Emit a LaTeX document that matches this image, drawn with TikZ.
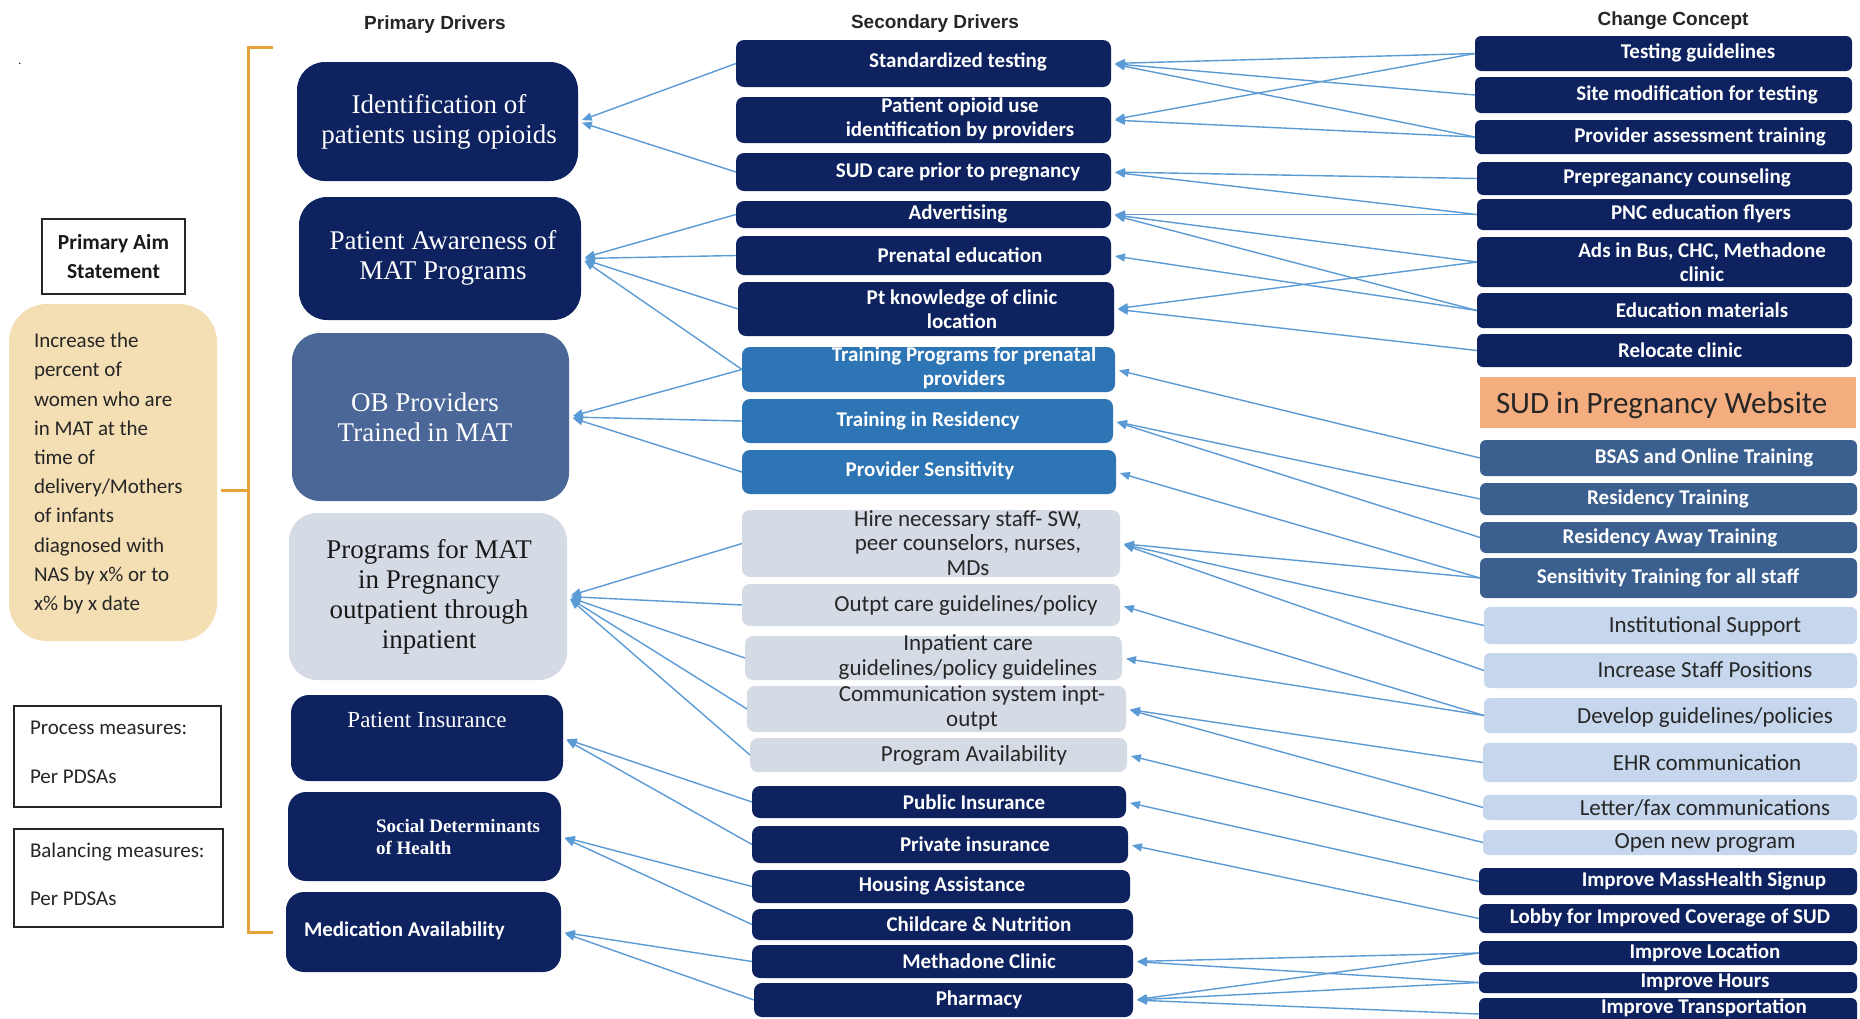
\documentclass[tikz,border=0pt]{standalone}
\usepackage{fontspec}
\setmainfont{Carlito}
\newfontfamily\fcal{Carlito}
\newfontfamily\farial{Liberation Sans}
\newfontfamily\fser{Liberation Serif}
\usetikzlibrary{arrows.meta}
\definecolor{navy}{RGB}{13,34,95}
\definecolor{obblue}{RGB}{74,103,151}
\definecolor{trblue}{RGB}{46,117,182}
\definecolor{lgray}{RGB}{213,219,228}
\definecolor{steel}{RGB}{59,95,143}
\definecolor{lblue}{RGB}{198,214,236}
\definecolor{tanbg}{RGB}{244,222,180}
\definecolor{webor}{RGB}{244,173,126}
\definecolor{gold}{RGB}{227,163,58}
\definecolor{arr}{RGB}{91,155,213}
\newcommand\fs[2]{\fontsize{#1}{#2}\selectfont}
% name, box style, x1, y1, x2, y2, text style, text position, text
\newcommand\bx[9]{%
  \node[#2,minimum width={#5-#3},minimum height={#6-#4}] (#1) at ({(#3+#5)/2},{(#4+#6)/2}) {};
  \node[#7] (#1t) at (#8) {#9};}
\tikzset{
  base/.style={inner sep=0pt, outer sep=0pt},
  pdk/.style={base, fill=navy, rounded corners=28pt},
  pob/.style={base, fill=obblue, rounded corners=28pt},
  plg/.style={base, fill=lgray, rounded corners=28pt},
  pdks/.style={base, fill=navy, rounded corners=18pt},
  ptx/.style={base, text=white, font=\fser\fs{27}{30}, align=center},
  ptxb/.style={ptx, text=black!90},
  pfive/.style={base, text=white, font=\fser\fs{23}{27}},
  psix/.style={base, text=white, font=\fser\bfseries\fs{19}{22}, align=left, anchor=west},
  pseven/.style={base, text=white, font=\fcal\bfseries\fs{21}{25}, anchor=west},
  sdk/.style={base, fill=navy, rounded corners=8pt},
  str/.style={base, fill=trblue, rounded corners=8pt},
  slg/.style={base, fill=lgray, rounded corners=8pt},
  wtx/.style={base, text=white, font=\fcal\bfseries\fs{21}{23.5}, align=center},
  btx/.style={base, text=black!85, font=\fcal\fs{23}{24.5}, align=center},
  cdk/.style={base, fill=navy, rounded corners=6pt},
  cst/.style={base, fill=steel, rounded corners=6pt},
  clb/.style={base, fill=lblue, rounded corners=6pt},
  hdr/.style={base, font=\farial\bfseries\fs{19}{22}, text=black!85},
  lefttx/.style={base, anchor=west, font=\fcal\fs{21}{25}, text=black!85},
  conn/.style={draw=arr, line width=1.4pt, -{Triangle[length=10pt,width=8pt]}, shorten >=4pt},
  brk/.style={draw=gold, line width=3pt},
}
\begin{document}
\begin{tikzpicture}[x=1pt,y=-1pt]
\fill[white] (0,0) rectangle (1860,1018);
\useasboundingbox (0,0) rectangle (1860,1018);

% headers
\node[hdr] (h1) at (435,25) {Primary Drivers};
\node[hdr] (h2) at (935,24) {Secondary Drivers};
\node[hdr] (h3) at (1673,21) {Change Concept};
\node[base, font=\fcal\fs{12}{12}] (dot) at (20,64) {.};

% aim column
\node[base, draw=black!85, line width=1.5pt, minimum width=143, minimum height=75,
      font=\fcal\bfseries\fs{21.5}{29}, align=center, text=black!90] (aim) at (113.5,256.5) {Primary Aim\\Statement};
\node[base, fill=tanbg, rounded corners=38pt, minimum width=208, minimum height=337] (goal) at (113,472.5) {};
\node[base, anchor=west, align=left, font=\fcal\fs{21}{29.2}, text=black!85] (goalt) at (34,473.5)
  {Increase the\\percent of\\women who are\\in MAT at the\\time of\\delivery/Mothers\\of infants\\diagnosed with\\NAS by x\% or to\\x\% by x date};
\node[base, draw=black!85, line width=1.5pt, minimum width=207, minimum height=101] (proc) at (117.5,756.5) {};
\node[lefttx] (proct1) at (30,728) {Process measures:};
\node[lefttx] (proct2) at (30,777) {Per PDSAs};
\node[base, draw=black!85, line width=1.5pt, minimum width=209, minimum height=98] (bal) at (118.5,878) {};
\node[lefttx] (balt1) at (30,852) {Balancing measures:};
\node[lefttx] (balt2) at (30,899) {Per PDSAs};

% bracket
\coordinate (bt) at (273,47);
\coordinate (bb) at (273,932);
\draw[brk] (bt) -- (248,47) -- (248,932) -- (bb);
\draw[brk] (goal.east)+(4,17.5) -- (248,490);

% primary drivers
\bx{p1}{pdk}{297}{62}{578}{181}{ptx}{439,122}{Identification of\\patients using opioids}
\bx{p2}{pdk}{299}{197}{581}{320}{ptx}{443,258}{Patient Awareness of\\MAT Programs}
\bx{p3}{pob}{292}{333}{569}{501}{ptx}{425,417}{OB Providers\\Trained in MAT}
\bx{p4}{plg}{289}{513}{567}{680}{ptxb}{429,597}{Programs for MAT\\in Pregnancy\\outpatient through\\inpatient}
\bx{p5}{pdks}{291}{695}{563}{781}{pfive}{427,720}{Patient Insurance}
\bx{p6}{pdks}{288}{792}{561}{881}{psix}{376,837}{Social Determinants\\of Health}
\bx{p7}{pdks}{286}{892}{561}{972}{pseven}{304,931}{Medication Availability}

% secondary drivers
\bx{s1}{sdk}{736}{40}{1111}{87}{wtx}{958,62}{Standardized testing}
\bx{s2}{sdk}{736}{97}{1111}{143}{wtx}{960,119}{Patient opioid use\\identification by providers}
\bx{s3}{sdk}{736}{153}{1111}{191}{wtx}{958,172}{SUD care prior to pregnancy}
\bx{s4}{sdk}{736}{201}{1111}{228}{wtx}{958,214}{Advertising}
\bx{s5}{sdk}{736}{236}{1111}{275}{wtx}{960,255}{Prenatal education}
\bx{s6}{sdk}{738}{282}{1114}{336}{wtx}{962,309}{Pt knowledge of clinic\\location}
\bx{s7}{str}{742}{347}{1115}{392}{wtx}{964,368}{Training Programs for prenatal\\providers}
\bx{s8}{str}{742}{399}{1113}{443}{wtx}{928,421}{Training in Residency}
\bx{s9}{str}{742}{450}{1116}{494}{wtx}{930,471}{Provider Sensitivity}
\bx{s10}{slg}{742}{510}{1120}{577}{btx}{968,543}{Hire necessary staff- SW,\\peer counselors, nurses,\\MDs}
\bx{s11}{slg}{742}{584}{1120}{626}{btx}{966,605}{Outpt care guidelines/policy}
\bx{s12}{slg}{745}{636}{1122}{680}{btx}{968,657}{Inpatient care\\guidelines/policy guidelines}
\bx{s13}{slg}{747}{686}{1126}{732}{btx}{972,708}{Communication system inpt-\\outpt}
\bx{s14}{slg}{750}{738}{1127}{772}{btx}{974,755}{Program Availability}
\bx{s15}{sdk}{752}{786}{1126}{818}{wtx}{974,802}{Public Insurance}
\bx{s16}{sdk}{752}{826}{1128}{863}{wtx}{975,844}{Private insurance}
\bx{s17}{sdk}{752}{870}{1130}{903}{wtx}{942,886}{Housing Assistance}
\bx{s18}{sdk}{752}{909}{1133}{940}{wtx}{979,924}{Childcare \& Nutrition}
\bx{s19}{sdk}{752}{945}{1133}{978}{wtx}{979,961}{Methadone Clinic}
\bx{s20}{sdk}{754}{983}{1133}{1017}{wtx}{979,1000}{Pharmacy}

% change concepts
\bx{c1}{cdk}{1475}{36}{1852}{71}{wtx}{1698,53}{Testing guidelines}
\bx{c2}{cdk}{1475}{77}{1852}{113}{wtx}{1697,95}{Site modification for testing}
\bx{c3}{cdk}{1475}{120}{1852}{154}{wtx}{1700,137}{Provider assessment training}
\bx{c4}{cdk}{1477}{162}{1852}{195}{wtx}{1677,178}{Prepreganancy counseling}
\bx{c5}{cdk}{1477}{199}{1852}{230}{wtx}{1701,214}{PNC education flyers}
\bx{c6}{cdk}{1477}{237}{1852}{287}{wtx}{1702,262}{Ads in Bus, CHC, Methadone\\clinic}
\bx{c7}{cdk}{1477}{293}{1852}{328}{wtx}{1702,310}{Education materials}
\bx{c8}{cdk}{1477}{334}{1852}{367}{wtx}{1680,350}{Relocate clinic}
\node[base, fill=webor, minimum width=376, minimum height=51] (web) at (1668,402.5) {};
\node[base, anchor=west, font=\fcal\fs{31}{35}, text=black!85] (webt) at (1496,405) {SUD in Pregnancy Website};
\bx{c9}{cst}{1480}{440}{1857}{476}{wtx}{1704,458}{BSAS and Online Training}
\bx{c10}{cst}{1480}{483}{1857}{515}{wtx}{1668,499}{Residency Training}
\bx{c11}{cst}{1480}{522}{1857}{553}{wtx}{1670,538}{Residency Away Training}
\bx{c12}{cst}{1480}{558}{1857}{598}{wtx}{1668,578}{Sensitivity Training for all staff}
\bx{c13}{clb}{1484}{607}{1857}{644}{btx}{1705,626}{Institutional Support}
\bx{c14}{clb}{1484}{653}{1857}{688}{btx}{1705,670}{Increase Staff Positions}
\bx{c15}{clb}{1484}{698}{1857}{733}{btx}{1705,717}{Develop guidelines/policies}
\bx{c16}{clb}{1483}{743}{1857}{782}{btx}{1707,763}{EHR communication}
\bx{c17}{clb}{1483}{795}{1857}{820}{btx}{1705,808}{Letter/fax communications}
\bx{c18}{clb}{1483}{830}{1857}{855}{btx}{1705,843}{Open new program}
\bx{c19}{cdk}{1479}{868}{1857}{895}{wtx}{1704,881}{Improve MassHealth Signup}
\bx{c20}{cdk}{1479}{904}{1857}{933}{wtx}{1670,918}{Lobby for Improved Coverage of SUD}
\bx{c21}{cdk}{1479}{941}{1857}{965}{wtx}{1705,953}{Improve Location}
\bx{c22}{cdk}{1479}{972}{1857}{993}{wtx}{1705,982}{Improve Hours}
\bx{c23}{cdk}{1479}{998}{1857}{1030}{wtx}{1704,1008}{Improve Transportation}

% connectors: secondary -> primary
\foreach \s/\p in {s1/p1, s3/p1, s4/p2, s5/p2, s6/p2, s7/p2, s7/p3, s8/p3, s9/p3,
  s10/p4, s11/p4, s12/p4, s13/p4, s14/p4, s15/p5, s16/p5, s17/p6, s18/p6, s19/p7, s20/p7}
  \draw[conn] (\s.west) -- (\p.east);
% connectors: change concept -> secondary
\foreach \c/\s in {c1/s1, c2/s1, c3/s1, c1/s2, c3/s2, c4/s3, c5/s3, c5/s4, c6/s4, c7/s4,
  c7/s5, c6/s6, c8/s6, c9/s7, c10/s8, c11/s8, c12/s9, c12/s10, c13/s10, c14/s10,
  c15/s11, c15/s12, c16/s13, c17/s13, c18/s14, c19/s15, c20/s16,
  c21/s19, c22/s19, c21/s20, c22/s20, c23/s20}
  \draw[conn] (\c.west) -- (\s.east);
\end{tikzpicture}
\end{document}
